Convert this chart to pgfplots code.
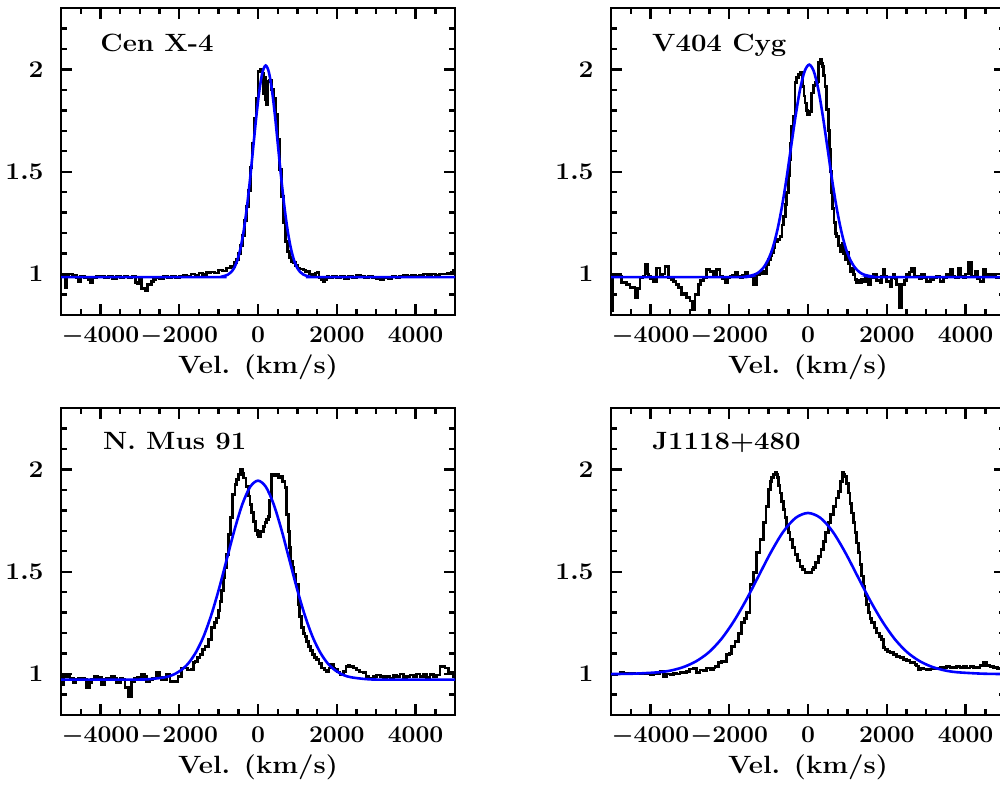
\documentclass[border=0pt]{standalone}
\usepackage{pgfplots}
\pgfplotsset{compat=1.18}
\definecolor{fitblue}{RGB}{0,0,255}
\tikzset{ttl/.style={anchor=base west, inner sep=0pt, xscale=1.1, font=\fontsize{12.5}{14}\selectfont\bfseries}}
\pgfplotsset{
 spec/.style={
  scale only axis, width=197pt, height=153.5pt,
  xmin=-5000, xmax=5000, ymin=0.8, ymax=2.3,
  xtick={-4000,-2000,0,2000,4000},
  minor xtick={-5000,-4500,...,5000},
  ytick={1,1.5,2},
  minor ytick={0.8,0.9,1.1,1.2,1.3,1.4,1.6,1.7,1.8,1.9,2.1,2.2,2.3},
  tick align=inside,
  major tick length=5.3pt, minor tick length=2.8pt,
  every tick/.style={black, line width=1.2pt},
  axis line style={line width=1.4pt},
  scaled x ticks=false,
  xticklabel style={/pgf/number format/1000 sep={}, anchor=base, yshift=-14pt, inner sep=0pt, xscale=1.03},
  yticklabel style={anchor=east, inner sep=0pt, xshift=-8.5pt, xscale=1.1},
  tick label style={font=\fontsize{12.5}{14}\selectfont\bfseries\boldmath},
  xlabel={Vel. (km/s)},
  xlabel style={at={(axis description cs:0.5,-0.189)}, anchor=base, inner sep=0pt, xscale=1.1, font=\fontsize{12.5}{14}\selectfont\bfseries},
 },
 blk/.style={black, line width=1.4pt, const plot},
 fit/.style={fitblue, line width=1.3pt, smooth},
}
\begin{document}
\begin{tikzpicture}
\useasboundingbox (0,0) rectangle (500pt,392.5pt);
% ---------------- Cen X-4 ----------------
\begin{axis}[spec, at={(30.5pt,235pt)}, anchor=south west]
\addplot[blk] coordinates {
(-5000,0.99) (-4950,0.998) (-4900,0.935) (-4850,0.99) (-4800,1.0) (-4700,0.995) (-4600,0.985) (-4550,0.965) (-4500,0.99) (-4400,0.985) (-4300,0.975) (-4250,0.958) (-4200,0.985) (-4100,0.99) (-4000,0.99) (-3900,0.985) (-3800,0.99) (-3700,0.98) (-3600,0.99) (-3500,0.985) (-3400,0.99) (-3300,0.985) (-3200,0.99) (-3100,0.96) (-3050,0.955) (-3000,0.975) (-2950,0.93) (-2850,0.918) (-2800,0.95) (-2700,0.965) (-2650,0.975) (-2600,0.985) (-2500,0.98) (-2400,0.99) (-2300,0.985) (-2200,0.99) (-2100,0.985) (-2000,0.99) (-1900,0.995) (-1800,0.99) (-1700,1.0) (-1600,0.995) (-1500,1.005) (-1400,0.998) (-1300,1.008) (-1200,1.01) (-1100,1.005) (-1000,1.02) (-900,1.015) (-800,1.03) (-700,1.035) (-600,1.055) (-550,1.07) (-500,1.10) (-450,1.14) (-400,1.19) (-350,1.26) (-300,1.33) (-250,1.41) (-200,1.52) (-150,1.64) (-100,1.76) (-50,1.86) (0,1.99) (50,2.0) (100,1.98) (130,1.88) (160,1.96) (190,1.85) (220,1.83) (250,1.94) (300,1.945) (350,1.90) (400,1.86) (450,1.78) (500,1.66) (550,1.51) (600,1.38) (650,1.25) (700,1.16) (750,1.11) (800,1.08) (850,1.06) (900,1.055) (950,1.04) (1000,1.03) (1050,1.025) (1100,1.025) (1150,1.02) (1200,1.01) (1250,1.015) (1300,1.0) (1350,0.998) (1400,0.99) (1450,1.005) (1500,1.006) (1550,0.985) (1600,0.975) (1650,0.965) (1700,0.975) (1750,0.99) (1800,0.985) (1900,0.99) (2000,0.985) (2100,0.99) (2200,0.98) (2300,0.99) (2400,0.985) (2500,0.995) (2600,0.99) (2700,0.985) (2800,0.99) (2900,0.985) (3000,0.98) (3100,0.975) (3200,0.985) (3300,0.98) (3400,0.99) (3500,0.985) (3600,0.99) (3700,0.995) (3800,0.99) (3900,0.995) (4000,0.99) (4100,0.995) (4200,1.0) (4300,0.998) (4400,1.0) (4500,0.995) (4600,1.0) (4700,1.0) (4800,1.005) (4900,1.01) (4950,1.02) (5000,1.02)
};
\addplot[fit] coordinates {
(-5000,0.985) (-1085,0.985) (-925,0.987) (-765,0.997) (-685,1.009) (-605,1.030) (-525,1.067) (-445,1.125) (-365,1.209) (-285,1.321) (-205,1.458) (-125,1.612) (-45,1.766) (35,1.898) (115,1.987) (195,2.019) (275,1.987) (355,1.898) (435,1.766) (515,1.612) (595,1.458) (675,1.321) (755,1.209) (835,1.125) (915,1.067) (995,1.030) (1075,1.009) (1155,0.997) (1315,0.987) (1475,0.985) (5000,0.985)
};
\node[ttl] at (axis cs:-4010,2.085) {Cen X-4};
\end{axis}
% ---------------- V404 Cyg ----------------
\begin{axis}[spec, at={(305.5pt,235pt)}, anchor=south west]
\addplot[blk] coordinates {
(-5000,0.82) (-4960,0.99) (-4900,0.99) (-4814,0.99) (-4729,0.957) (-4602,0.95) (-4518,0.933) (-4391,0.884) (-4320,0.93) (-4264,0.981) (-4190,0.99) (-4137,1.046) (-4080,1.0) (-4053,0.99) (-3990,0.98) (-3926,0.965) (-3841,1.03) (-3757,0.99) (-3700,1.0) (-3630,1.038) (-3545,0.981) (-3480,0.975) (-3419,0.965) (-3350,0.95) (-3292,0.933) (-3207,0.90) (-3150,0.905) (-3080,0.884) (-2996,0.868) (-2928,0.827) (-2869,0.90) (-2784,0.949) (-2720,0.97) (-2657,0.981) (-2573,1.022) (-2488,1.014) (-2404,0.998) (-2319,1.022) (-2234,0.99) (-2170,0.98) (-2108,0.957) (-2040,0.985) (-1981,0.99) (-1920,0.995) (-1854,1.006) (-1790,0.99) (-1727,0.981) (-1660,0.995) (-1600,1.006) (-1540,0.99) (-1473,0.99) (-1388,0.949) (-1304,0.998) (-1240,1.0) (-1177,1.014) (-1110,1.0) (-1050,1.046) (-1007,1.07) (-960,1.09) (-922,1.104) (-880,1.13) (-837,1.16) (-770,1.17) (-711,1.185) (-660,1.24) (-626,1.282) (-580,1.34) (-541,1.397) (-500,1.48) (-474,1.56) (-440,1.64) (-414,1.722) (-372,1.771) (-330,1.934) (-290,1.96) (-246,1.975) (-186,1.983) (-135,1.917) (-100,1.87) (-76,1.836) (-40,1.80) (-17,1.78) (34,1.795) (93,1.885) (140,1.92) (178,1.934) (237,1.942) (262,2.032) (305,2.048) (340,2.03) (372,2.015) (400,1.97) (432,1.917) (474,1.804) (510,1.70) (541,1.608) (570,1.50) (601,1.397) (630,1.32) (660,1.25) (700,1.20) (728,1.185) (770,1.14) (812,1.111) (850,1.14) (880,1.152) (910,1.10) (939,1.07) (981,1.104) (1020,1.05) (1066,1.014) (1110,1.03) (1150,0.998) (1193,0.973) (1235,0.957) (1280,0.97) (1320,0.957) (1360,0.975) (1404,0.965) (1460,0.98) (1531,0.949) (1580,0.985) (1658,0.998) (1740,0.97) (1827,0.957) (1870,0.99) (1912,1.022) (1950,0.99) (1996,0.965) (2081,0.94) (2120,0.985) (2166,0.998) (2210,0.98) (2250,0.949) (2318,0.835) (2377,0.949) (2440,0.97) (2504,0.998) (2570,1.01) (2631,1.03) (2700,0.99) (2758,0.99) (2820,0.98) (2885,0.998) (2950,0.985) (3012,0.965) (3100,0.975) (3181,0.981) (3260,0.99) (3350,0.965) (3430,0.985) (3519,0.998) (3604,1.022) (3660,0.99) (3731,0.981) (3815,1.03) (3880,0.99) (3942,0.981) (4000,1.0) (4069,1.055) (4153,0.99) (4238,1.014) (4300,0.98) (4365,0.965) (4449,1.022) (4510,0.99) (4576,0.998) (4640,1.0) (4703,0.99) (4770,0.985) (4830,0.981) (4900,0.99) (4957,1.0) (5000,0.99)
};
\addplot[fit] coordinates {
(-5000,0.985) (-1830,0.985) (-1598,0.987) (-1365,0.997) (-1249,1.009) (-1133,1.031) (-1016,1.068) (-900,1.125) (-784,1.210) (-668,1.322) (-551,1.460) (-435,1.615) (-319,1.768) (-203,1.901) (-86,1.991) (30,2.023) (146,1.991) (263,1.901) (379,1.768) (495,1.615) (611,1.460) (728,1.322) (844,1.210) (960,1.125) (1076,1.068) (1193,1.031) (1309,1.009) (1425,0.997) (1658,0.987) (1890,0.985) (5000,0.985)
};
\node[ttl] at (axis cs:-3967,2.085) {V404 Cyg};
\end{axis}
% ---------------- N. Mus 91 ----------------
\begin{axis}[spec, at={(30.5pt,35pt)}, anchor=south west]
\addplot[blk] coordinates {
(-5000,0.95) (-4940,0.99) (-4850,0.99) (-4771,0.981) (-4687,0.957) (-4620,0.975) (-4560,0.981) (-4480,0.98) (-4400,0.975) (-4349,0.933) (-4280,0.96) (-4222,0.973) (-4150,0.99) (-4080,0.985) (-3968,0.949) (-3900,0.975) (-3840,0.98) (-3714,0.99) (-3650,0.98) (-3588,0.957) (-3500,0.98) (-3440,0.975) (-3376,0.933) (-3292,0.892) (-3207,0.965) (-3130,0.98) (-3050,0.985) (-2953,0.998) (-2880,0.99) (-2826,0.965) (-2750,0.975) (-2680,0.981) (-2573,1.006) (-2500,0.985) (-2440,0.975) (-2319,0.998) (-2233,0.965) (-2170,0.965) (-2108,0.965) (-2030,0.99) (-1937,1.03) (-1854,1.03) (-1780,1.02) (-1683,1.022) (-1640,1.055) (-1599,1.063) (-1540,1.08) (-1472,1.096) (-1400,1.12) (-1345,1.136) (-1260,1.17) (-1176,1.226) (-1110,1.25) (-1049,1.274) (-1000,1.31) (-964,1.356) (-920,1.41) (-880,1.47) (-840,1.52) (-795,1.584) (-753,1.682) (-694,1.763) (-643,1.877) (-584,1.926) (-540,1.95) (-499,1.975) (-440,1.999) (-400,1.98) (-372,1.958) (-305,1.918) (-250,1.87) (-203,1.828) (-160,1.79) (-118,1.747) (-60,1.70) (-17,1.682) (20,1.67) (68,1.698) (130,1.72) (178,1.739) (220,1.755) (262,1.771) (300,1.85) (347,1.975) (400,1.97) (457,1.975) (510,1.96) (559,1.966) (620,1.94) (686,1.910) (728,1.779) (770,1.698) (800,1.62) (829,1.552) (870,1.52) (914,1.487) (965,1.438) (1024,1.34) (1060,1.28) (1108,1.226) (1150,1.20) (1193,1.185) (1240,1.16) (1277,1.136) (1330,1.115) (1387,1.096) (1440,1.08) (1489,1.071) (1550,1.05) (1616,1.03) (1680,1.02) (1743,1.014) (1800,1.03) (1845,1.046) (1912,1.03) (1955,1.022) (2020,1.01) (2081,0.998) (2166,1.014) (2233,1.038) (2300,1.04) (2335,1.038) (2420,1.03) (2500,1.02) (2580,1.01) (2673,1.006) (2740,0.99) (2800,0.981) (2927,0.99) (3012,0.995) (3100,0.99) (3181,0.985) (3265,0.99) (3350,0.98) (3434,0.995) (3519,0.99) (3604,1.0) (3688,0.985) (3773,0.99) (3857,0.995) (3942,0.99) (4026,1.0) (4111,0.99) (4196,1.0) (4280,0.985) (4365,0.998) (4450,0.99) (4535,0.995) (4619,1.038) (4745,1.03) (4830,1.01) (4872,1.006) (4957,0.99) (5000,0.99)
};
\addplot[fit] coordinates {
(-5000,0.973) (-3160,0.973) (-2765,0.975) (-2370,0.984) (-2173,0.995) (-1975,1.016) (-1778,1.050) (-1580,1.105) (-1383,1.183) (-1185,1.289) (-988,1.418) (-790,1.563) (-593,1.707) (-395,1.831) (-198,1.915) (0,1.945) (198,1.915) (395,1.831) (593,1.707) (790,1.563) (988,1.418) (1185,1.289) (1383,1.183) (1580,1.105) (1778,1.050) (1975,1.016) (2173,0.995) (2370,0.984) (2765,0.975) (3160,0.973) (5000,0.973)
};
\node[ttl] at (axis cs:-3942,2.095) {N. Mus 91};
\end{axis}
% ---------------- J1118+480 ----------------
\begin{axis}[spec, at={(305.5pt,35pt)}, anchor=south west]
\addplot[blk] coordinates {
(-5000,1.0) (-4941,0.998) (-4850,1.0) (-4772,1.006) (-4680,1.0) (-4600,1.004) (-4500,1.002) (-4400,1.0) (-4300,1.004) (-4200,1.0) (-4100,1.002) (-4010,0.995) (-3930,1.0) (-3840,1.002) (-3757,1.014) (-3672,0.99) (-3590,1.0) (-3500,0.995) (-3420,1.002) (-3340,1.0) (-3249,1.006) (-3160,1.008) (-3080,1.014) (-3000,1.025) (-2911,1.03) (-2826,1.006) (-2740,1.02) (-2660,1.015) (-2573,1.03) (-2480,1.02) (-2400,1.03) (-2361,1.038) (-2277,1.055) (-2192,1.063) (-2150,1.063) (-2065,1.096) (-2000,1.10) (-1937,1.136) (-1853,1.161) (-1770,1.20) (-1684,1.25) (-1620,1.27) (-1557,1.30) (-1473,1.438) (-1388,1.495) (-1303,1.593) (-1219,1.658) (-1134,1.739) (-1066,1.82) (-1007,1.902) (-960,1.94) (-922,1.959) (-880,1.975) (-837,1.983) (-800,1.975) (-770,1.959) (-740,1.92) (-711,1.885) (-670,1.845) (-626,1.804) (-585,1.765) (-542,1.722) (-500,1.69) (-457,1.658) (-400,1.62) (-330,1.584) (-270,1.555) (-203,1.527) (-140,1.51) (-76,1.498) (0,1.495) (51,1.498) (100,1.51) (135,1.519) (200,1.545) (262,1.576) (330,1.61) (389,1.649) (450,1.69) (516,1.739) (580,1.78) (643,1.82) (710,1.86) (770,1.893) (830,1.94) (880,1.983) (910,1.975) (940,1.967) (980,1.93) (1024,1.885) (1066,1.835) (1109,1.787) (1150,1.74) (1193,1.69) (1235,1.64) (1278,1.593) (1320,1.535) (1362,1.479) (1405,1.43) (1447,1.381) (1490,1.34) (1532,1.30) (1575,1.27) (1616,1.25) (1680,1.225) (1743,1.201) (1810,1.185) (1870,1.169) (1912,1.13) (1955,1.12) (2020,1.11) (2081,1.104) (2166,1.095) (2250,1.087) (2335,1.08) (2420,1.071) (2505,1.065) (2589,1.055) (2716,1.046) (2758,1.039) (2800,1.022) (2860,1.03) (2927,1.025) (3012,1.022) (3100,1.025) (3181,1.028) (3265,1.026) (3350,1.033) (3434,1.03) (3519,1.035) (3604,1.032) (3688,1.03) (3773,1.036) (3857,1.033) (3942,1.035) (4026,1.03) (4111,1.036) (4196,1.034) (4280,1.033) (4365,1.04) (4449,1.055) (4535,1.04) (4619,1.035) (4700,1.033) (4800,1.028) (4872,1.025) (4957,1.02) (5000,1.02)
};
\addplot[fit] coordinates {
(-5000,1.0) (-4410,1.002) (-3780,1.009) (-3465,1.018) (-3150,1.035) (-2835,1.063) (-2520,1.106) (-2205,1.170) (-1890,1.256) (-1575,1.360) (-1260,1.477) (-945,1.594) (-630,1.695) (-315,1.763) (0,1.787) (315,1.763) (630,1.695) (945,1.594) (1260,1.477) (1575,1.360) (1890,1.256) (2205,1.170) (2520,1.106) (2835,1.063) (3150,1.035) (3465,1.018) (3780,1.009) (4410,1.002) (5000,1.0)
};
\node[ttl] at (axis cs:-3967,2.095) {J1118+480};
\end{axis}
\end{tikzpicture}
\end{document}
